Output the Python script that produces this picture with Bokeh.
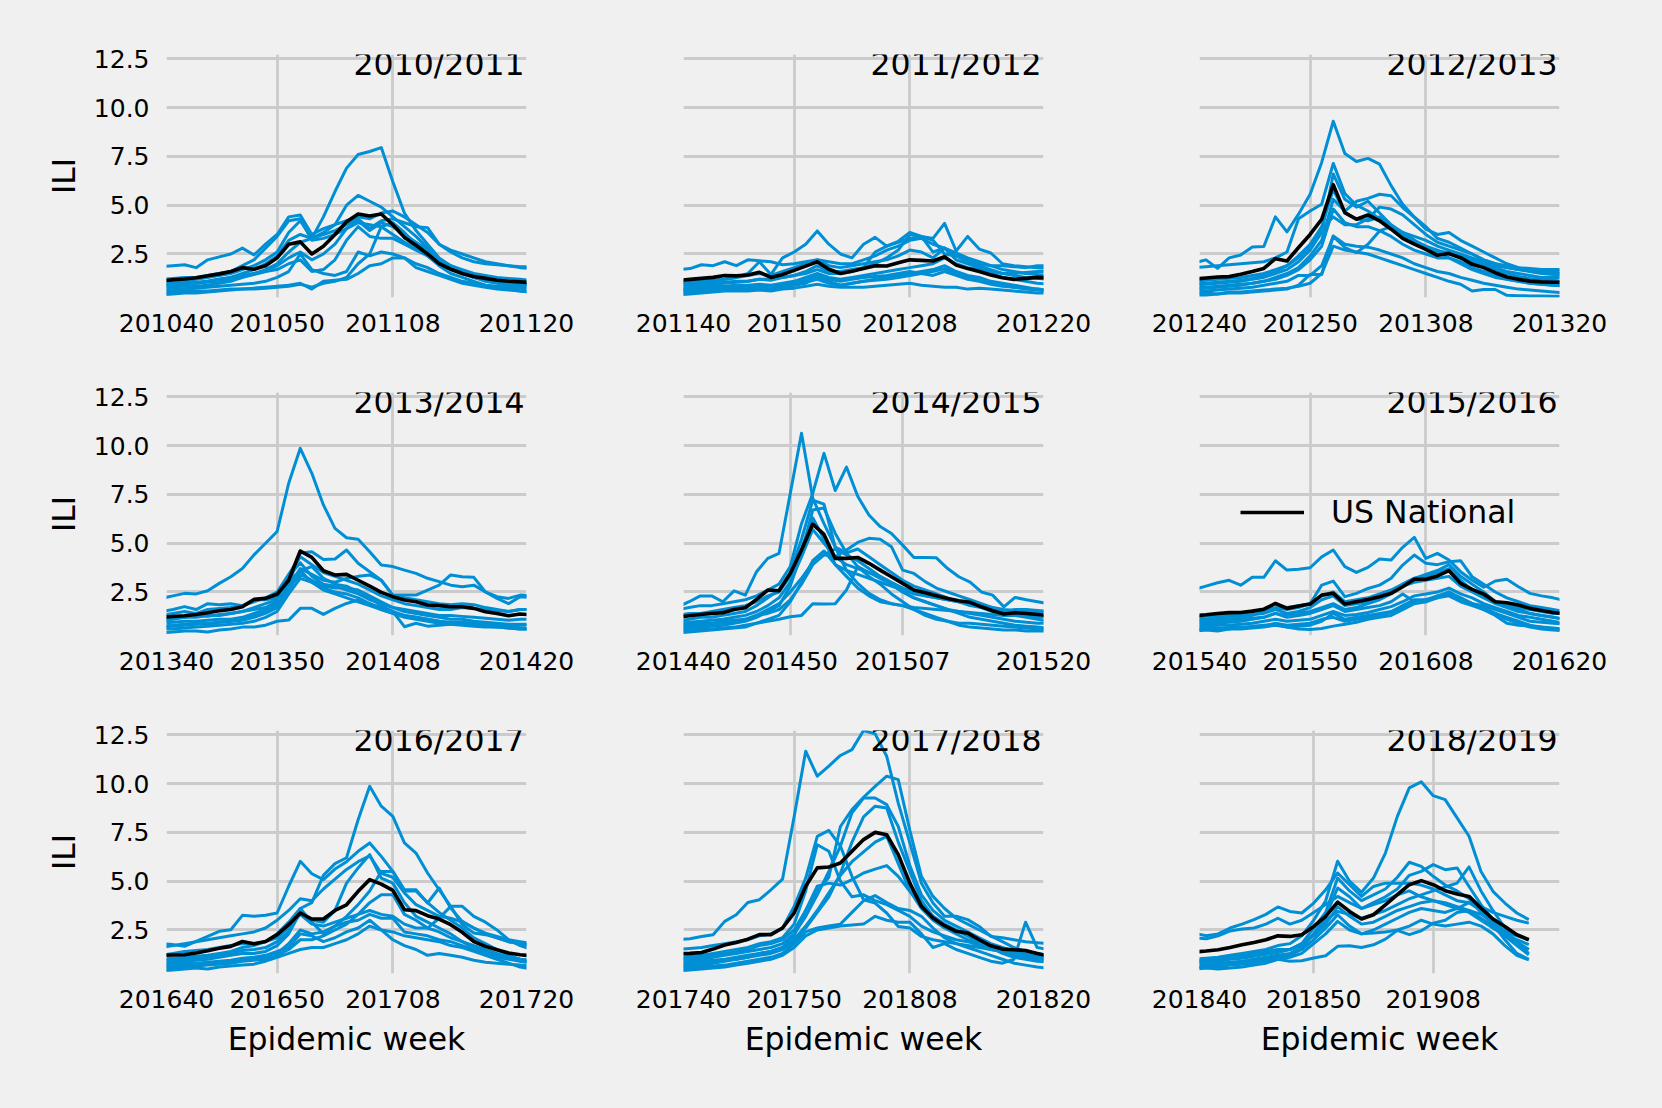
from bokeh.plotting import figure
from bokeh.models import (Range1d, FixedTicker, CustomJSTickFormatter, PrintfTickFormatter,
                          Label, Legend, LegendItem)
from bokeh.layouts import gridplot
from bokeh.embed import file_html
from bokeh.resources import INLINE

BG = "#f0f0f0"
BLUE = "#008fd5"
GRID = "#cbcbcb"
FONT = "DejaVu Sans"

seasons = ["2010/2011", "2011/2012", "2012/2013", "2013/2014", "2014/2015",
           "2015/2016", "2016/2017", "2017/2018", "2018/2019"]

week_labels = [
    ["201040", "201050", "201108", "201120"],
    ["201140", "201150", "201208", "201220"],
    ["201240", "201250", "201308", "201320"],
    ["201340", "201350", "201408", "201420"],
    ["201440", "201450", "201507", "201520"],
    ["201540", "201550", "201608", "201620"],
    ["201640", "201650", "201708", "201720"],
    ["201740", "201750", "201808", "201820"],
    ["201840", "201850", "201908"],
]

# ---------------- US National ILI (weekly) ----------------
nat_2010 = [1.12,1.18,1.22,1.28,1.38,1.48,1.6,1.8,1.72,1.9, 2.3,3.0,3.12,2.5,2.9,3.5,4.15,4.55,4.45,4.55, 4.0,3.35,2.95,2.5,2.0,1.72,1.5,1.35,1.25,1.15, 1.1,1.07,1.03]
nat_2011 = [1.15,1.2,1.25,1.3,1.4,1.38,1.42,1.56,1.3,1.45, 1.66,1.88,2.1,1.72,1.5,1.62,1.76,1.9,1.88,2.05, 2.2,2.17,2.14,2.36,1.93,1.75,1.6,1.42,1.28,1.2, 1.25,1.3,1.28]
nat_2012 = [1.22,1.27,1.32,1.34,1.46,1.6,1.76,2.26,2.14,2.83, 3.5,4.28,6.05,4.62,4.28,4.5,4.2,3.77,3.3,3.0, 2.74,2.43,2.52,2.31,1.97,1.8,1.54,1.32,1.2,1.11, 1.07,1.05,1.05]
nat_2013 = [1.2,1.24,1.28,1.35,1.44,1.54,1.6,1.74,2.12,2.17, 2.38,3.1,4.6,4.27,3.59,3.37,3.4,3.1,2.8,2.48, 2.26,2.09,2.0,1.83,1.8,1.74,1.74,1.66,1.49,1.4, 1.28,1.37,1.33]
nat_2014 = [1.2,1.28,1.35,1.4,1.44,1.6,1.69,2.12,2.6,2.56, 3.45,4.65,5.98,5.45,4.22,4.22,4.27,3.97,3.62,3.28, 2.94,2.6,2.46,2.31,2.17,2.05,1.97,1.74,1.54,1.37, 1.44,1.4,1.35,1.3]
nat_2015 = [1.28,1.33,1.4,1.44,1.45,1.52,1.62,1.91,1.66,1.78, 1.88,2.34,2.43,1.88,2.0,2.12,2.26,2.43,2.77,3.15, 3.15,3.32,3.59,2.94,2.63,2.39,2.0,1.95,1.83,1.66, 1.55,1.45,1.38]
nat_2016 = [1.2,1.22,1.23,1.32,1.44,1.56,1.66,1.91,1.79,1.91, 2.26,2.77,3.37,3.06,3.06,3.5,3.79,4.48,5.08,4.85, 4.53,3.54,3.49,3.23,3.06,2.77,2.38,1.91,1.66,1.49, 1.32,1.23,1.18]
nat_2017 = [1.28,1.3,1.35,1.52,1.73,1.86,2.03,2.26,2.26,2.6, 3.37,4.74,5.68,5.73,5.93,6.53,7.13,7.5,7.38,6.36, 4.9,3.71,3.11,2.72,2.43,2.34,2.0,1.69,1.52,1.49, 1.45,1.3,1.16]
nat_2018 = [1.37,1.42,1.49,1.6,1.74,1.86,2.0,2.2,2.17,2.26, 2.68,3.2,3.93,3.45,3.06,3.28,3.79,4.31,4.82,5.03, 4.82,4.51,4.34,4.22,3.62,3.06,2.68,2.26,2.0]

# ---------------- HHS regions ILI (weekly) ----------------
reg_2010 = [
    [0.9,0.95,1.0,1.0,1.05,1.1,1.2,1.3,1.5,1.7, 2.0,2.6,3.1,3.3,4.4,5.7,6.9,7.6,7.75,7.95, 6.2,4.6,3.7,3.0,2.3,1.9,1.6,1.4,1.3,1.2, 1.1,1.0,0.95],
    [0.8,0.85,0.9,1.0,1.1,1.2,1.3,1.5,1.7,2.0, 2.4,3.2,3.5,3.3,3.6,4.0,5.0,5.5,5.2,4.9, 4.4,3.9,3.4,2.8,2.2,1.8,1.5,1.3,1.2,1.1, 1.0,0.95,0.9],
    [1.85,1.9,1.95,1.8,2.2,2.35,2.5,2.8,2.45,3.0, 3.5,4.4,4.5,3.5,3.8,4.0,4.2,4.4,4.3,4.6, 4.7,4.4,4.0,3.6,3.0,2.6,2.3,2.1,2.0,1.95, 1.9,1.85,1.85],
    [1.0,1.05,1.1,1.2,1.3,1.4,1.5,1.7,1.9,2.2, 2.6,3.6,4.2,3.3,3.5,3.7,4.0,4.3,3.8,4.2, 4.3,4.1,3.9,3.85,3.0,2.7,2.5,2.3,2.1,2.0, 1.9,1.8,1.75],
    [0.5,0.55,0.6,0.6,0.6,0.65,0.7,0.7,0.75,0.8, 0.85,0.9,1.0,0.7,1.1,1.15,1.2,1.5,1.9,2.0, 2.3,2.3,1.8,1.6,1.4,1.2,1.0,0.9,0.8,0.7, 0.65,0.6,0.55],
    [0.6,0.65,0.7,0.75,0.8,0.85,0.9,0.95,1.0,1.1, 1.3,1.6,2.5,1.7,1.5,1.4,1.6,2.6,2.4,2.6, 2.5,2.3,2.0,1.8,1.5,1.3,1.1,1.0,0.9,0.85, 0.8,0.75,0.7],
    [0.7,0.75,0.8,0.85,0.9,1.0,1.1,1.3,1.45,1.6, 1.9,2.3,2.6,2.2,2.5,3.0,3.8,4.2,3.7,4.1, 3.9,3.5,3.1,2.7,2.2,1.8,1.5,1.3,1.1,1.0, 0.9,0.85,0.8],
    [0.9,0.95,1.0,1.05,1.1,1.2,1.3,1.4,1.5,1.6, 1.7,2.0,2.2,1.6,1.7,2.2,3.2,3.9,3.4,3.3, 3.3,3.0,2.7,2.4,2.0,1.7,1.5,1.3,1.2,1.1, 1.0,0.95,0.9],
    [0.4,0.45,0.5,0.5,0.55,0.6,0.65,0.7,0.7,0.75, 0.8,0.85,0.95,0.8,1.0,1.1,1.3,2.0,2.5,3.9, 4.1,3.6,3.0,2.4,1.9,1.5,1.3,1.1,0.9,0.8, 0.7,0.6,0.55],
    [1.2,1.25,1.3,1.3,1.4,1.5,1.6,1.9,2.2,2.8, 3.4,4.2,4.3,3.2,3.3,3.5,3.8,4.1,4.0,3.9, 3.5,3.1,2.8,2.5,2.2,1.9,1.7,1.5,1.4,1.3, 1.25,1.2,1.15],
]
reg_2011 = [
    [1.7,1.75,1.95,1.9,2.1,1.9,2.2,2.15,2.1,1.95, 2.0,2.1,2.2,2.1,2.0,2.0,2.2,2.4,2.7,2.9, 3.2,3.3,3.0,2.8,2.4,2.2,2.0,1.9,1.9,1.85, 1.8,1.9,1.9],
    [1.0,1.05,1.1,1.1,1.2,1.3,1.5,2.1,1.45,2.3, 2.6,3.0,3.68,3.0,2.5,2.3,3.0,3.35,2.9,3.15, 3.6,3.4,2.6,2.8,2.55,2.3,2.1,1.9,1.7,1.6, 1.5,1.45,1.4],
    [0.8,0.85,0.9,0.95,1.0,1.05,1.1,1.2,1.2,1.3, 1.4,1.5,1.7,1.5,1.5,1.6,1.8,2.6,2.9,3.1, 3.3,3.4,3.3,4.07,2.65,3.4,2.75,2.55,2.0,1.9, 1.85,1.8,1.75],
    [0.9,0.95,1.0,1.0,1.05,1.1,1.1,1.2,1.15,1.3, 1.4,1.6,1.9,1.6,1.6,1.7,1.8,2.0,2.3,2.7, 3.5,3.4,3.2,2.5,2.4,2.1,1.9,1.7,1.5,1.4, 1.3,1.25,1.2],
    [0.4,0.45,0.5,0.55,0.6,0.6,0.6,0.65,0.6,0.7, 0.75,0.85,0.95,0.85,0.8,0.8,0.8,0.85,0.9,0.95, 1.0,0.9,0.85,0.8,0.8,0.7,0.75,0.7,0.65,0.6, 0.55,0.5,0.5],
    [0.6,0.6,0.65,0.7,0.7,0.75,0.8,0.8,0.75,0.85, 0.95,1.05,1.2,1.0,0.9,1.0,1.1,1.2,1.3,1.4, 1.5,1.6,1.7,1.9,1.6,1.4,1.3,1.1,1.0,0.9, 0.8,0.7,0.65],
    [0.7,0.75,0.8,0.85,0.85,0.9,0.9,0.95,0.9,1.0, 1.1,1.3,1.5,1.3,1.2,1.3,1.4,1.5,1.6,1.7, 1.8,1.9,2.0,2.3,2.0,1.8,1.7,1.5,1.3,1.2, 1.1,1.0,0.95],
    [0.5,0.55,0.6,0.6,0.65,0.7,0.7,0.7,0.65,0.8, 0.9,1.0,1.3,1.1,0.9,1.0,1.1,1.15,1.2,1.3, 1.4,1.5,1.6,1.75,1.5,1.3,1.15,1.0,0.9,0.8, 0.7,0.65,0.6],
    [1.0,1.05,1.1,1.15,1.2,1.3,1.4,1.5,1.4,1.6, 1.8,2.0,2.2,1.9,1.8,1.9,2.0,2.1,2.2,2.4, 2.7,2.6,2.3,2.8,2.2,2.0,1.8,1.6,1.5,1.5, 1.55,1.6,1.6],
    [0.65,0.7,0.7,0.75,0.8,0.8,0.85,0.9,0.8,0.95, 1.0,1.15,1.4,1.2,1.1,1.2,1.3,1.35,1.4,1.5, 1.6,1.5,1.4,1.6,1.4,1.2,1.1,0.95,0.85,0.8, 0.75,0.7,0.65],
]
reg_2012 = [
    [2.05,2.2,1.76,2.3,2.45,2.86,2.88,4.4,3.63,4.54, 5.56,7.19,9.3,7.65,7.24,7.4,7.1,6.0,5.05,4.4, 3.9,3.3,3.1,2.8,2.5,2.2,2.0,1.9,1.8,1.75, 1.7,1.7,1.7],
    [1.8,1.85,1.9,1.95,2.0,2.05,2.1,2.3,2.6,4.3, 4.7,5.05,7.14,5.6,5.0,4.7,4.3,3.9,3.6,3.4, 3.2,2.9,2.7,2.5,2.3,2.1,1.9,1.8,1.7,1.65, 1.6,1.6,1.6],
    [0.7,0.75,0.8,0.85,0.9,1.0,1.1,1.3,1.5,1.8, 2.4,3.2,5.3,4.7,5.2,5.35,5.56,5.48,4.88,4.37, 3.77,3.5,3.6,3.2,2.9,2.6,2.3,2.0,1.8,1.6, 1.5,1.45,1.4],
    [0.9,0.95,1.0,1.05,1.1,1.2,1.3,1.5,1.7,2.1, 2.7,3.6,6.6,5.3,4.9,5.2,4.6,4.0,3.6,3.2, 2.9,2.7,2.5,2.3,2.1,1.9,1.7,1.5,1.35,1.25, 1.2,1.15,1.1],
    [0.6,0.6,0.65,0.7,0.75,0.8,0.9,1.0,1.1,1.4, 1.4,1.9,3.4,2.83,2.57,3.0,3.68,3.9,3.6,3.2, 2.8,2.6,2.3,2.0,1.7,1.5,1.3,1.2,1.1,1.0, 0.95,0.9,0.9],
    [0.5,0.5,0.45,0.55,0.55,0.6,0.65,0.7,0.75,0.85, 1.0,1.5,2.9,2.7,2.6,2.5,2.3,2.1,1.9,1.7, 1.5,1.3,1.1,0.95,0.6,0.68,0.68,0.38,0.36,0.35, 0.35,0.34,0.34],
    [1.0,1.0,1.05,1.1,1.15,1.25,1.4,1.6,1.9,2.4, 3.0,3.9,5.8,4.6,4.3,4.2,4.4,3.9,3.5,3.1, 2.8,2.6,2.6,2.4,2.2,2.0,1.8,1.6,1.5,1.4, 1.3,1.3,1.3],
    [0.8,0.8,0.85,0.9,0.95,1.0,1.1,1.2,1.4,1.7, 2.2,2.9,4.8,4.1,3.9,3.9,3.7,3.4,3.0,2.7, 2.5,2.3,2.3,2.1,1.8,1.6,1.4,1.2,1.1,1.0, 0.95,0.9,0.85],
    [0.4,0.4,0.45,0.5,0.5,0.55,0.6,0.65,0.7,0.9, 1.45,1.45,3.42,3.0,2.9,2.85,2.7,2.5,2.3,2.0, 1.8,1.6,1.5,1.3,1.15,1.0,0.9,0.8,0.7,0.65, 0.6,0.55,0.5],
    [1.1,1.15,1.2,1.25,1.3,1.4,1.5,1.7,1.9,2.3, 2.9,3.8,4.4,4.0,4.0,4.3,4.9,4.8,4.5,4.0, 3.5,3.1,2.9,2.7,2.5,2.2,2.0,1.8,1.7,1.6, 1.55,1.5,1.5],
]
reg_2013 = [
    [2.17,2.3,2.43,2.4,2.56,2.94,3.28,3.7,4.4,5.0, 5.6,8.07,9.86,8.58,6.96,5.76,5.28,5.2,4.56,3.88, 3.8,3.62,3.45,3.2,3.03,2.85,2.77,2.85,2.5,2.26, 2.17,2.34,2.3],
    [1.5,1.6,1.75,1.6,1.9,1.85,1.9,1.8,2.1,2.1, 2.2,2.9,4.5,4.56,4.17,4.19,4.65,3.97,3.54,3.1, 2.34,2.2,2.1,2.0,1.9,1.85,1.9,1.85,1.7,1.6, 1.5,1.6,1.6],
    [1.0,1.1,1.2,1.2,1.3,1.3,1.4,1.5,1.6,1.7, 2.0,2.8,3.7,3.4,3.1,3.0,3.2,3.3,3.37,3.1, 2.34,2.34,2.34,2.6,2.85,3.37,3.28,3.25,2.5,2.17, 1.9,2.26,2.2],
    [0.4,0.45,0.5,0.5,0.45,0.55,0.6,0.7,0.7,0.8, 1.0,1.06,1.66,1.66,1.35,1.66,1.91,2.08,1.9,1.7, 1.5,1.3,1.2,1.1,1.0,0.9,0.85,0.8,0.75,0.7, 0.65,0.6,0.6],
    [0.7,0.75,0.8,0.85,0.9,0.95,1.0,1.1,1.3,1.5, 1.9,2.6,3.6,3.8,3.2,2.9,2.8,2.5,2.2,1.8, 1.5,0.72,0.9,0.75,0.8,0.85,0.9,0.85,0.8,0.75, 0.7,0.65,0.6],
    [1.3,1.4,1.5,1.4,1.6,1.65,1.7,1.8,2.0,2.2, 2.5,3.4,4.3,3.9,3.5,3.3,3.1,2.9,2.6,2.3, 2.1,1.9,1.8,1.7,1.6,1.6,1.7,1.65,1.6,1.55, 1.5,1.6,1.6],
    [0.9,0.95,1.0,1.0,1.05,1.1,1.1,1.2,1.4,1.6, 1.8,3.0,3.6,3.0,2.7,2.5,2.4,2.2,1.9,1.6, 1.4,1.3,1.2,1.1,1.0,0.95,0.95,0.9,0.85,0.8, 0.75,0.8,0.8],
    [0.6,0.6,0.65,0.7,0.75,0.8,0.85,0.9,1.0,1.2, 1.5,2.4,3.2,3.0,2.6,2.4,2.2,2.0,1.8,1.6, 1.4,1.2,1.1,1.0,0.9,0.85,0.8,0.75,0.7,0.7, 0.65,0.6,0.6],
    [1.1,1.15,1.2,1.3,1.25,1.35,1.4,1.5,1.7,1.9, 2.1,3.3,4.0,3.3,2.9,2.8,2.6,2.4,2.1,1.9, 1.7,1.6,1.5,1.4,1.3,1.3,1.25,1.2,1.15,1.1, 1.05,1.1,1.1],
    [0.75,0.8,0.85,0.9,0.85,0.95,1.0,1.05,1.2,1.4, 1.7,2.7,3.4,3.1,2.8,2.7,2.7,2.6,2.3,2.0, 1.7,1.5,1.4,1.3,1.2,1.1,1.1,1.0,0.95,0.9, 0.85,0.85,0.85],
]
reg_2014 = [
    [1.74,2.0,2.3,2.3,2.0,2.56,2.34,3.54,4.22,4.48, 7.55,10.63,7.3,6.0,4.8,3.6,2.94,2.43,2.1,1.9, 1.8,1.7,1.65,1.6,1.55,1.5,1.45,1.4,1.35,1.3, 1.3,1.25,1.2,1.2],
    [1.6,1.7,1.8,1.8,1.9,2.0,2.1,2.3,2.6,2.9, 3.8,6.0,7.55,9.6,7.7,8.9,7.4,6.44,5.85,5.5, 4.9,4.27,4.27,4.25,3.7,3.28,3.0,2.5,2.34,1.74, 2.22,2.1,2.0,1.9],
    [1.0,1.1,1.2,1.2,1.3,1.4,1.5,1.8,2.2,2.6, 3.5,5.2,7.2,7.0,4.8,4.5,4.7,4.3,3.9,3.5, 3.1,2.8,2.6,2.4,2.2,2.0,1.9,1.7,1.5,1.4, 1.4,1.3,1.3,1.25],
    [0.7,0.75,0.8,0.85,0.9,1.0,1.1,1.3,1.6,1.9, 2.5,3.2,4.0,4.4,4.3,4.65,5.04,5.25,5.2,4.82, 3.62,3.45,3.03,2.7,2.5,2.3,2.1,1.9,1.7,1.5, 1.3,1.2,1.1,1.0],
    [0.5,0.55,0.6,0.6,0.65,0.7,0.8,0.9,1.0,1.1, 1.23,1.3,1.9,1.88,1.9,2.6,3.8,3.5,3.2,2.9, 2.5,2.2,2.0,1.8,1.6,1.4,1.2,1.1,1.0,0.9, 0.8,0.75,0.7,0.65],
    [0.6,0.65,0.7,0.75,0.8,0.9,1.0,1.2,1.5,1.8, 2.8,4.5,6.7,6.8,5.5,4.5,3.8,3.3,2.9,2.4, 2.0,1.6,1.3,1.1,1.0,0.9,0.9,0.85,0.8,0.75, 0.7,0.65,0.6,0.6],
    [0.9,0.95,1.0,1.05,1.1,1.2,1.3,1.5,1.8,2.2, 3.0,4.3,5.7,5.0,4.3,3.9,3.7,3.5,3.3,3.0, 2.7,2.5,2.3,2.2,2.1,2.0,1.9,1.8,1.7,1.6, 1.55,1.5,1.5,1.5],
    [0.4,0.45,0.5,0.55,0.6,0.65,0.7,0.9,1.1,1.3, 2.0,3.0,4.1,4.6,3.9,3.3,2.7,2.3,2.0,1.9, 1.8,1.6,1.4,1.2,1.0,0.8,0.7,0.65,0.6,0.55, 0.55,0.5,0.5,0.5],
    [1.3,1.4,1.4,1.5,1.6,1.7,1.8,2.0,2.3,2.5, 3.3,4.7,6.3,5.2,3.9,3.6,3.4,3.2,3.0,2.8, 2.6,2.4,2.3,2.2,2.1,2.0,1.8,1.7,1.6,1.5, 1.6,1.6,1.55,1.5],
    [0.8,0.85,0.9,0.9,1.0,1.05,1.1,1.3,1.4,1.6, 2.1,2.9,3.9,4.4,4.7,4.4,4.1,3.7,3.3,2.9, 2.5,2.2,2.0,1.8,1.6,1.5,1.4,1.3,1.2,1.1, 1.0,0.95,0.9,0.9],
]
reg_2015 = [
    [2.63,2.8,2.97,3.1,2.85,3.25,3.25,4.1,3.62,3.67, 3.74,4.3,4.65,3.8,3.5,3.76,4.19,4.14,4.79,5.3, 4.22,4.48,4.14,3.54,3.1,2.74,3.06,3.15,2.77,2.43, 2.3,2.2,2.05],
    [1.0,1.05,1.1,1.15,1.2,1.3,1.5,1.7,1.6,1.7, 1.9,2.85,3.06,2.26,2.43,2.68,2.85,3.2,3.88,4.39, 3.97,3.9,4.05,4.1,3.28,2.9,2.5,2.2,2.0,1.8, 1.7,1.6,1.5],
    [0.8,0.85,0.9,0.95,1.0,1.1,1.2,1.4,1.3,1.4, 1.5,1.7,1.9,1.6,1.7,1.9,2.1,2.4,2.9,3.2, 3.4,3.6,3.9,3.3,2.9,2.5,2.0,1.8,1.6,1.4, 1.3,1.2,1.1],
    [0.6,0.65,0.6,0.7,0.65,0.75,0.8,0.85,0.7,0.6, 0.58,0.63,0.75,0.85,0.95,1.1,1.2,1.3,1.6,1.9, 2.0,2.3,2.5,2.2,1.9,1.6,1.3,0.9,0.8,0.75, 0.7,0.65,0.6],
    [0.9,0.95,1.0,1.05,1.1,1.15,1.2,1.4,1.2,1.3, 1.4,1.6,1.8,1.5,1.6,1.7,1.8,2.0,2.4,2.0, 2.0,2.2,2.5,2.1,1.9,1.8,1.6,1.4,1.2,1.0, 0.95,0.9,0.85],
    [1.2,1.25,1.3,1.35,1.4,1.5,1.6,1.9,1.7,1.8, 1.9,2.3,2.5,2.0,2.1,2.2,2.4,2.6,2.9,3.2, 3.3,3.5,3.7,3.1,2.6,2.3,2.0,1.8,1.7,1.6, 1.5,1.4,1.4],
    [0.5,0.55,0.5,0.6,0.6,0.65,0.7,0.8,0.7,0.75, 0.8,1.0,1.4,1.1,1.2,1.3,1.4,1.5,1.8,2.1, 2.1,2.2,2.3,2.0,1.8,1.6,1.4,1.2,1.0,0.8, 0.7,0.6,0.6],
    [0.7,0.75,0.8,0.8,0.85,0.9,1.0,1.1,1.0,1.05, 1.1,1.3,1.5,1.3,1.35,1.45,1.6,1.75,2.0,2.3, 2.4,2.5,2.7,2.4,2.2,1.9,1.7,1.5,1.3,1.2, 1.1,1.0,0.9],
    [1.1,1.1,1.2,1.25,1.3,1.35,1.4,1.6,1.4,1.5, 1.7,2.1,2.3,1.8,1.9,2.0,2.2,2.5,2.8,3.0, 3.1,3.2,3.3,2.8,2.5,2.2,1.9,1.7,1.5,1.4, 1.3,1.2,1.1],
    [0.55,0.6,0.65,0.6,0.7,0.7,0.75,0.9,0.8,0.85, 0.9,1.1,1.2,1.0,1.1,1.2,1.3,1.45,1.7,2.0, 2.1,2.3,2.4,2.2,1.9,1.7,1.4,1.1,0.9,0.7, 0.6,0.55,0.5],
]
reg_2016 = [
    [1.0,1.05,1.1,1.15,1.2,1.3,1.4,1.6,1.7,1.9, 2.3,2.9,3.6,3.9,5.3,5.9,6.2,8.15,9.86,8.84, 8.32,6.96,6.44,5.42,4.56,3.71,2.77,2.34,2.26,2.1, 1.9,1.8,1.7],
    [1.8,1.75,1.66,1.91,2.17,2.43,2.51,3.25,3.2,3.25, 3.37,4.74,6.02,5.38,5.08,5.62,6.0,6.53,6.96,6.27, 5.5,4.56,4.56,3.88,4.65,3.62,2.94,2.6,2.34,2.17, 2.0,1.9,1.8],
    [0.8,0.85,0.9,0.95,1.0,1.1,1.2,1.3,1.3,1.4, 1.7,2.3,3.4,3.0,2.9,3.5,4.9,5.68,6.36,5.16, 4.9,3.9,3.2,2.9,2.6,2.3,1.9,1.6,1.4,1.2, 1.1,1.0,0.95],
    [0.6,0.65,0.7,0.75,0.8,0.85,0.9,1.0,1.0,1.1, 1.3,1.8,2.5,2.3,2.4,2.7,3.2,3.8,4.5,5.5, 5.5,4.5,4.5,3.9,3.4,3.0,2.6,2.1,1.8,1.5, 1.2,1.0,0.9],
    [0.5,0.55,0.6,0.65,0.7,0.75,0.8,0.9,0.95,1.0, 1.2,1.5,2.0,2.0,2.2,2.5,2.8,3.3,3.9,4.3, 4.3,3.3,3.0,2.6,2.4,2.1,1.9,1.7,1.5,1.3, 1.1,0.9,0.8],
    [1.2,1.3,1.4,1.45,1.5,1.6,1.7,1.8,1.8,1.9, 2.1,2.6,3.3,2.8,2.7,2.9,3.1,3.3,3.5,3.3, 3.2,2.8,2.6,2.6,3.1,3.71,3.71,3.2,2.9,2.5, 2.0,1.7,1.5],
    [0.4,0.45,0.5,0.55,0.5,0.6,0.65,0.7,0.75,0.9, 1.1,1.3,1.5,1.6,1.6,1.8,2.0,2.3,2.7,2.5, 2.4,2.2,2.1,2.0,1.9,1.7,1.6,1.4,1.2,1.0, 0.8,0.6,0.5],
    [0.7,0.75,0.8,0.8,0.85,0.9,0.95,1.05,1.1,1.2, 1.4,1.6,2.3,2.2,1.9,2.1,2.4,2.6,3.0,2.5, 2.0,1.7,1.5,1.2,1.3,1.2,1.1,0.95,0.85,0.8, 0.75,0.7,0.65],
    [0.9,0.95,1.0,1.05,1.1,1.2,1.3,1.45,1.5,1.6, 1.9,2.4,3.6,2.9,2.3,2.7,2.9,3.0,3.3,3.1, 3.1,2.4,2.3,2.2,2.0,1.9,1.7,1.5,1.3,1.1, 1.0,0.9,0.85],
    [1.6,1.7,1.8,1.9,2.0,2.1,2.2,2.3,2.4,2.6, 3.0,3.5,4.1,4.0,4.6,5.1,5.6,6.0,6.3,5.4, 5.2,4.4,3.8,3.5,3.2,3.1,2.9,2.6,2.3,2.1, 1.9,1.8,1.7],
]
reg_2017 = [
    [2.0,2.05,2.17,2.26,2.94,3.28,3.91,4.05,4.56,5.11, 8.3,11.66,10.38,10.9,11.44,11.74,12.72,12.55,11.4,9.0, 6.96,4.9,3.88,3.2,3.2,3.03,2.68,2.17,2.1,2.0, 1.9,1.85,1.8],
    [1.0,1.05,1.1,1.2,1.3,1.4,1.5,1.7,1.8,2.0, 2.5,3.5,4.5,5.2,7.8,8.67,9.3,9.86,10.38,10.2, 7.6,5.25,4.22,3.6,3.1,2.8,2.5,2.2,1.9,1.6, 1.4,1.3,1.2],
    [0.9,0.95,1.0,1.1,1.2,1.3,1.4,1.5,1.6,1.8, 2.3,3.2,4.3,5.5,6.8,8.5,9.26,9.26,8.92,7.8, 5.8,4.3,3.5,3.0,2.7,2.4,2.1,1.8,1.6,1.4, 1.3,1.2,1.1],
    [0.7,0.75,0.8,0.85,0.95,1.0,1.1,1.2,1.3,1.5, 1.9,2.6,3.4,4.2,5.4,7.0,8.3,8.84,8.75,7.0, 5.5,4.0,3.2,2.8,2.5,2.2,1.9,1.6,1.4,1.2, 1.1,1.0,0.9],
    [0.8,0.85,0.9,0.95,1.0,1.1,1.2,1.3,1.4,1.6, 2.0,2.7,3.5,4.4,5.3,6.0,6.5,7.0,7.3,5.9, 4.5,3.6,3.0,2.6,2.3,2.0,1.8,1.6,1.4,1.3, 1.2,1.1,1.0],
    [1.5,1.55,1.6,1.7,1.8,1.9,2.0,2.2,2.3,2.6, 3.7,5.16,7.3,7.6,6.8,5.25,4.05,3.88,3.37,2.68, 2.6,2.17,2.0,1.9,1.8,1.7,1.6,1.5,1.4,1.35, 1.3,1.25,1.2],
    [1.1,1.15,1.2,1.3,1.4,1.5,1.6,1.8,1.9,2.1, 2.8,4.5,6.87,6.53,5.0,4.2,4.3,4.0,3.8,3.5, 3.2,2.7,2.4,2.2,2.0,1.9,1.7,1.5,1.4,1.3, 1.2,1.1,1.0],
    [0.6,0.65,0.7,0.8,0.9,1.0,1.1,1.3,1.4,1.6, 2.2,3.5,4.74,4.9,4.8,5.08,5.42,5.62,5.8,5.25, 4.48,3.8,3.2,2.8,2.5,2.2,1.9,1.6,1.3,1.1, 1.0,0.9,0.85],
    [0.5,0.55,0.6,0.65,0.7,0.8,0.9,1.0,1.1,1.3, 1.8,2.4,2.6,2.7,2.8,3.4,4.0,4.26,3.9,3.6, 3.5,3.2,2.6,2.1,1.8,1.6,1.4,1.2,1.0,0.8, 0.7,0.6,0.55],
    [0.4,0.45,0.5,0.55,0.6,0.7,0.8,0.9,1.0,1.2, 1.6,2.2,2.5,2.6,2.7,2.75,2.8,3.2,3.0,2.9, 2.9,2.3,1.6,1.8,1.5,1.3,1.1,0.9,0.8,1.0, 2.9,1.6,1.5],
]
reg_2018 = [
    [1.0,1.05,1.1,1.2,1.3,1.4,1.5,1.7,1.8,2.2, 3.0,4.0,6.02,5.0,4.43,5.16,6.44,8.32,9.78,10.09, 9.38,9.18,8.24,7.3,5.5,4.48,3.88,3.37,3.03],
    [0.8,0.85,0.9,1.0,1.05,1.15,1.25,1.35,1.5,1.8, 2.6,3.4,5.16,4.5,4.0,4.3,4.6,5.2,5.97,5.76, 5.25,4.8,4.5,4.1,3.4,2.8,2.3,2.0,1.75],
    [0.7,0.75,0.8,0.85,0.9,1.0,1.1,1.2,1.3,1.6, 2.3,3.2,4.65,4.2,3.6,3.9,4.2,4.6,5.3,5.5, 5.85,5.59,5.68,4.73,3.8,3.0,2.4,1.9,1.5],
    [0.9,0.95,1.0,1.05,1.1,1.2,1.3,1.45,1.5,1.7, 2.3,3.0,3.45,3.3,3.1,3.3,3.5,3.8,4.1,4.3, 4.5,4.7,4.9,5.73,4.5,3.5,2.6,1.8,1.3],
    [2.34,2.2,2.3,2.6,2.8,3.03,3.3,3.68,3.45,3.37, 3.88,4.56,5.42,4.82,4.22,4.73,4.9,4.9,4.9,4.8, 4.6,4.3,4.0,3.9,3.7,3.4,3.2,3.0,2.85],
    [2.1,2.05,2.2,2.45,2.55,2.6,2.8,3.1,2.8,3.0, 3.4,3.8,4.22,3.9,3.6,3.8,4.0,4.3,4.5,4.2, 4.0,3.9,3.7,3.5,3.1,2.7,2.4,2.2,2.0],
    [0.6,0.65,0.7,0.75,0.8,0.9,1.0,1.1,1.2,1.5, 2.0,2.6,3.28,2.7,2.3,2.5,2.8,3.1,3.4,3.6, 3.5,3.4,3.6,3.9,3.5,2.8,2.0,1.3,1.0],
    [0.5,0.55,0.6,0.7,0.75,0.8,0.9,1.0,1.1,1.3, 1.8,2.3,2.94,2.5,2.3,2.35,2.4,2.5,2.7,3.0, 2.8,2.7,2.8,2.9,2.7,2.3,1.7,1.2,0.97],
    [0.6,0.55,0.5,0.55,0.6,0.7,0.8,1.0,0.9,0.92, 1.06,1.18,1.66,1.69,1.6,1.74,2.03,2.48,2.26,2.46, 2.85,3.0,3.4,3.5,3.3,2.9,2.3,1.8,1.5],
    [0.9,0.9,1.0,1.1,1.2,1.3,1.4,1.5,1.5,1.8, 2.2,2.8,3.7,3.2,2.8,2.9,3.2,3.5,3.7,3.9, 4.0,3.8,3.6,3.4,3.0,2.6,2.2,1.7,1.23],
]

national = [nat_2010, nat_2011, nat_2012, nat_2013, nat_2014, nat_2015, nat_2016, nat_2017, nat_2018]
regions = [reg_2010, reg_2011, reg_2012, reg_2013, reg_2014, reg_2015, reg_2016, reg_2017, reg_2018]
y_ticks = [2.5, 5.0, 7.5, 10.0, 12.5]

# visible week window of each panel (index units)
x_start = [0.44, 0.44, 0.44, 0.44, 0.5, 0.44, 0.44, 0.44, 0.44]
x_end = [31.55, 31.55, 31.55, 31.55, 32.53, 31.55, 31.55, 31.55, 30.57]

FRAME_W, FRAME_H = 360, 243
LEFT = [166, 102, 101]
RIGHT = [55, 55, 101]
TOP = [54, 46, 46]
BOTTOM = [49, 49, 133]

tick_fmt_code = """
let best = 0; let d = 1e9;
for (let i = 0; i < pos.length; i++) {
  const e = Math.abs(pos[i] - tick);
  if (e < d) { d = e; best = i; }
}
return lab[best];
"""

panels = []
for k in range(9):
    r, c = divmod(k, 3)
    xs, xe = x_start[k], x_end[k]
    p = figure(width=LEFT[c] + FRAME_W + RIGHT[c], height=TOP[r] + FRAME_H + BOTTOM[r],
               x_range=Range1d(xs, xe), y_range=Range1d(0.27, 12.72),
               output_backend="svg", toolbar_location=None, tools="",
               min_border_left=LEFT[c], min_border_right=RIGHT[c],
               min_border_top=TOP[r], min_border_bottom=BOTTOM[r],
               background_fill_color=BG, border_fill_color=BG, outline_line_color=None)
    p.styles = {"background-color": BG}

    labels = week_labels[k]
    pos = [xs + 1e-9, 10, 20, xe - 1e-9][:len(labels)]
    p.xaxis.ticker = FixedTicker(ticks=pos)
    p.xaxis.formatter = CustomJSTickFormatter(args=dict(pos=pos, lab=labels), code=tick_fmt_code)
    p.xgrid.ticker = FixedTicker(ticks=[10, 20])
    p.ygrid.ticker = FixedTicker(ticks=y_ticks)
    p.grid.grid_line_color = GRID
    p.grid.grid_line_width = 2.8

    for ax in p.axis:
        ax.axis_line_color = None
        ax.major_tick_line_color = None
        ax.minor_tick_line_color = None
        ax.major_label_text_font = FONT
        ax.major_label_text_font_size = "25px"
        ax.major_label_text_color = "black"
        ax.axis_label_text_font = FONT
        ax.axis_label_text_font_size = "31.5px"
        ax.axis_label_text_font_style = "normal"
        ax.axis_label_text_color = "black"
    p.xaxis.major_label_standoff = 10

    if c == 0:
        p.yaxis.ticker = FixedTicker(ticks=y_ticks)
        p.yaxis.formatter = PrintfTickFormatter(format="%.1f")
        p.yaxis.major_label_standoff = 11
        p.yaxis.axis_label = "ILI"
        p.yaxis.axis_label_standoff = 9
    else:
        p.yaxis.visible = False

    if r == 2:
        p.xaxis.axis_label = "Epidemic week"
        p.xaxis.axis_label_standoff = 10

    for reg in regions[k]:
        p.line(list(range(len(reg))), reg, line_color=BLUE, line_width=3.0, line_join="round")
    nat = national[k]
    nat_r = p.line(list(range(len(nat))), nat, line_color="black", line_width=3.6, line_join="round")

    p.add_layout(Label(x=xe, y=12.22, text=seasons[k], text_align="right",
                       text_baseline="alphabetic", text_font=FONT, text_font_size="31.5px",
                       text_color="black", x_offset=-2))

    if k == 5:
        leg = Legend(items=[LegendItem(label="US National", renderers=[nat_r])],
                     location=(41, 104), orientation="vertical",
                     background_fill_alpha=0, border_line_color=None,
                     label_text_font=FONT, label_text_font_size="31.5px",
                     label_text_color="black",
                     glyph_width=64, glyph_height=38, label_height=38,
                     label_standoff=27, padding=0, margin=0, spacing=0)
        p.add_layout(leg)
    panels.append(p)

grid = gridplot([panels[0:3], panels[3:6], panels[6:9]], toolbar_location=None)
grid.styles = {"background-color": BG}

html = file_html(grid, INLINE, title="ILI by season")
html = html.replace("</head>", "<style>html, body { background-color: #f0f0f0 !important; }</style>\n</head>", 1)
open("out.html", "w").write(html)
